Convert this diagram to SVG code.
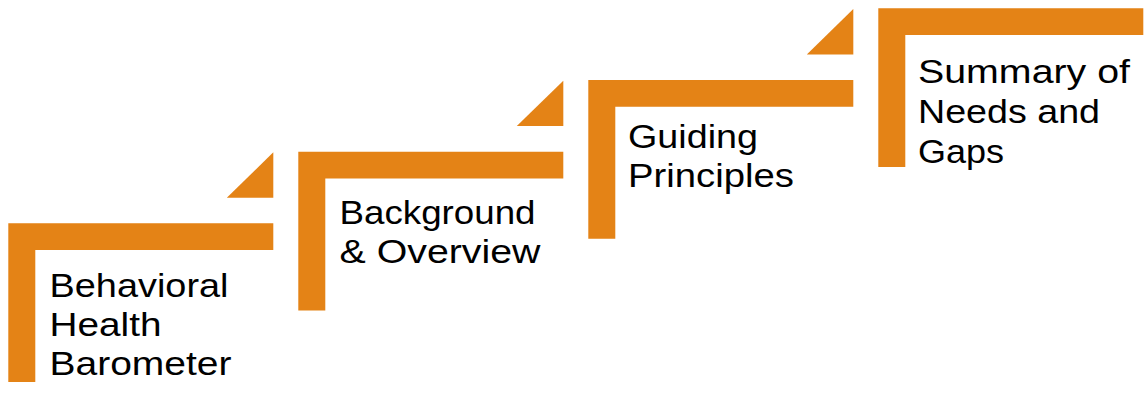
<svg xmlns="http://www.w3.org/2000/svg" xmlns:xlink="http://www.w3.org/1999/xlink" width="1145" height="398" viewBox="0 0 1145 398">
  <style>
    .bar { fill: #E48316; }
    .lbl { font-family: "Liberation Sans", Arial, sans-serif; font-size: 33px; fill: #000000; }
  </style>
  <defs>
    <!-- corner bracket of one step -->
    <polygon id="corner" class="bar" points="0,0 265,0 265,26.7 27,26.7 27,158.7 0,158.7"/>
    <!-- small wedge that leads up to the next step -->
    <polygon id="wedge" class="bar" points="265,-71 265,-25.6 218.5,-25.6"/>
  </defs>

  <g id="step-behavioral-health-barometer" transform="translate(8.3,223.3)">
    <use xlink:href="#corner"/>
    <use xlink:href="#wedge"/>
  </g>
  <g id="step-background-overview" transform="translate(298.3,151.7)">
    <use xlink:href="#corner"/>
    <use xlink:href="#wedge"/>
  </g>
  <g id="step-guiding-principles" transform="translate(588.3,80)">
    <use xlink:href="#corner"/>
    <use xlink:href="#wedge"/>
  </g>
  <g id="step-summary-needs-gaps" transform="translate(878.3,8.3)">
    <use xlink:href="#corner"/>
  </g>

  <g id="connectors"></g>

  <g id="labels">
    <text class="lbl" x="49.5" y="296.7" textLength="179" lengthAdjust="spacingAndGlyphs">Behavioral</text>
    <text class="lbl" x="49.5" y="336" textLength="112" lengthAdjust="spacingAndGlyphs">Health</text>
    <text class="lbl" x="49.5" y="375.3" textLength="182" lengthAdjust="spacingAndGlyphs">Barometer</text>

    <text class="lbl" x="339.5" y="224.3" textLength="196" lengthAdjust="spacingAndGlyphs">Background</text>
    <text class="lbl" x="339.5" y="263.3" textLength="201" lengthAdjust="spacingAndGlyphs">&amp; Overview</text>

    <text class="lbl" x="628" y="148.3" textLength="130" lengthAdjust="spacingAndGlyphs">Guiding</text>
    <text class="lbl" x="628" y="186.7" textLength="166" lengthAdjust="spacingAndGlyphs">Principles</text>

    <text class="lbl" x="918" y="83.3" textLength="212" lengthAdjust="spacingAndGlyphs">Summary of</text>
    <text class="lbl" x="918" y="123.3" textLength="182" lengthAdjust="spacingAndGlyphs">Needs and</text>
    <text class="lbl" x="918" y="163.3" textLength="86" lengthAdjust="spacingAndGlyphs">Gaps</text>
  </g>
</svg>
